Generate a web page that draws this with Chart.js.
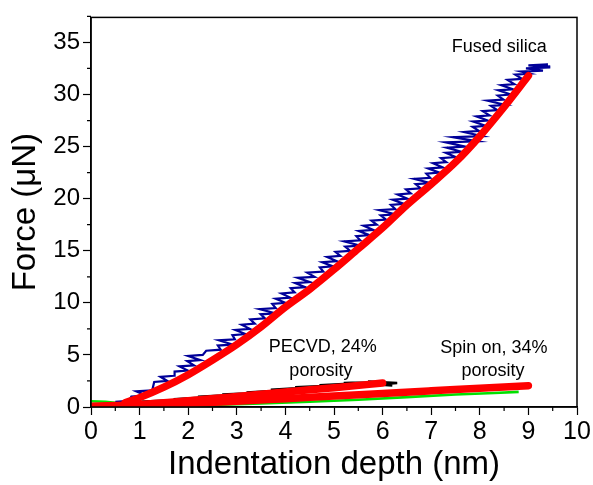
<!DOCTYPE html>
<html>
<head>
<meta charset="utf-8">
<script src="https://cdn.jsdelivr.net/npm/chart.js@4.4.0/dist/chart.umd.min.js"></script>
<style>
  html, body { margin: 0; padding: 0; background: #fff; }
</style>
</head>
<body>
<canvas id="chart" width="593" height="485"></canvas>
<script>
// tick labels
const xMajor = [0, 1, 2, 3, 4, 5, 6, 7, 8, 9, 10];
const yMajor = [0, 5, 10, 15, 20, 25, 30, 35];

// fused silica: raw (noisy, read as left/right pairs) + fit
const fusedX = [0.5, 0.78, 0.83, 1.13, 0.93, 1.26, 1.30, 1.57, 1.43, 1.71, 1.72, 1.99, 1.82, 2.12, 1.98, 2.25, 2.0, 2.3,
  2.37, 2.67, 2.61, 2.91, 2.63, 2.96, 2.91, 3.18, 2.97, 3.27, 3.10, 3.37, 3.28, 3.58, 3.49, 3.79, 3.47, 3.80,
  3.73, 4.0, 3.8, 4.1, 3.92, 4.19, 4.11, 4.41, 4.2, 4.5, 4.25, 4.6, 4.45, 4.78, 4.71, 4.98, 4.76, 5.06,
  4.86, 5.13, 5.03, 5.33, 5.23, 5.53, 5.21, 5.54, 5.46, 5.73, 5.51, 5.81, 5.61, 5.88, 5.77, 6.07, 5.96, 6.26,
  5.93, 6.26, 6.17, 6.44, 6.21, 6.51, 6.31, 6.58, 6.48, 6.78, 6.68, 6.98, 6.65, 6.98, 6.9, 7.17, 6.94, 7.24,
  7.04, 7.31, 7.2, 7.5, 7.3, 7.62, 7.32, 7.7, 7.3, 7.95, 7.45, 8.05, 7.68, 7.98, 7.85, 8.12, 7.86, 8.16,
  7.93, 8.2, 8.06, 8.36, 8.23, 8.53, 8.16, 8.49, 8.37, 8.64, 8.38, 8.68, 8.44, 8.71, 8.57, 8.87, 8.73, 9.03,
  8.85, 9.3, 8.95, 9.45, 9.0, 9.4, 9.1, 9.45];
const fusedY = [0.5, 0.6, 1.0, 1.1, 1.5, 1.6, 2.4, 2.5, 2.9, 3.0, 3.4, 3.5, 3.9, 4.0, 4.4, 4.5, 4.9, 5.0,
  5.4, 5.5, 5.9, 6.0, 6.4, 6.5, 6.9, 7.0, 7.4, 7.5, 7.9, 8.0, 8.4, 8.5, 8.9, 9.0, 9.4, 9.5,
  9.9, 10.0, 10.4, 10.5, 10.9, 11.0, 11.4, 11.5, 11.9, 12.0, 12.4, 12.5, 12.9, 13.0, 13.4, 13.5, 13.9, 14.0,
  14.4, 14.5, 14.9, 15.0, 15.4, 15.5, 15.9, 16.0, 16.4, 16.5, 16.9, 17.0, 17.4, 17.5, 17.9, 18.0, 18.4, 18.5,
  18.9, 19.0, 19.4, 19.5, 19.9, 20.0, 20.4, 20.5, 20.9, 21.0, 21.4, 21.5, 21.9, 22.0, 22.4, 22.5, 22.9, 23.0,
  23.4, 23.5, 23.9, 24.0, 24.4, 24.5, 24.9, 25.0, 25.4, 25.5, 25.9, 26.0, 26.4, 26.5, 26.9, 27.0, 27.4, 27.5,
  27.9, 28.0, 28.4, 28.5, 28.9, 29.0, 29.4, 29.5, 29.9, 30.0, 30.4, 30.5, 30.9, 31.0, 31.4, 31.5, 31.9, 32.0,
  32.2, 32.3, 32.5, 32.6, 32.8, 32.9, 32.6, 32.7];
const fusedFitX = [0.7, 1, 1.5, 2, 2.5, 3, 3.5, 4, 4.5, 5, 5.5, 6, 6.5, 7, 7.5, 8, 8.5, 9];
const fusedFitY = [0.4, 0.9, 1.9, 3.1, 4.5, 6.0, 7.7, 9.6, 11.3, 13.2, 15.2, 17.2, 19.4, 21.4, 23.5, 26.0, 28.8, 31.8];

// PECVD, 24% porosity
const pecvdX = [0.8, 1.3, 1.2, 1.9, 1.7, 2.4, 2.2, 2.9, 2.7, 3.4, 3.2, 3.9, 3.7, 4.4, 4.2, 4.9, 4.7, 5.4,
  5.2, 5.9, 5.7, 6.3, 5.9, 6.2];
const pecvdY = [0.35, 0.45, 0.55, 0.7, 0.75, 0.95, 1.0, 1.15, 1.2, 1.35, 1.4, 1.6, 1.65, 1.85, 1.9, 2.05, 2.1, 2.25,
  2.3, 2.4, 2.45, 2.3, 2.15, 2.05];
const pecvdFitX = [0, 1, 2, 3, 4, 5, 6];
const pecvdFitY = [0.05, 0.25, 0.6, 1.0, 1.45, 1.85, 2.3];

// spin on, 34% porosity
const spinX = [0, 0.3, 0.6, 1.5, 2.5, 3.5, 4.5, 5.5, 6.5, 7.5, 8.3, 8.8];
const spinY = [0.55, 0.5, 0.35, 0.15, 0.2, 0.35, 0.5, 0.7, 0.95, 1.2, 1.35, 1.45];
const spinFitX = [0, 1, 2, 3, 4, 5, 6, 7, 8, 9];
const spinFitY = [0.05, 0.15, 0.35, 0.55, 0.8, 1.05, 1.3, 1.55, 1.8, 2.05];

// text notes (data coords)
const noteText = ["Fused silica", "PECVD, 24%", "porosity", "Spin on, 34%", "porosity"];
const noteX = [8.4, 4.77, 4.73, 8.29, 8.27];
const noteY = [34.6, 5.8, 3.5, 5.7, 3.5];

const FONT = "Arial, 'Liberation Sans', sans-serif";

const pts = (xs, ys) => xs.map((x, i) => ({ x: x, y: ys[i] }));

function raw(data, color, width) {
  return { data, borderColor: color, backgroundColor: color, borderWidth: width, pointRadius: 0, showLine: true,
    borderJoinStyle: 'miter', order: 2 };
}
function fit(data) {
  return { data, borderColor: '#ff0000', backgroundColor: '#ff0000', borderWidth: 7.5, pointRadius: 0, showLine: true,
    borderCapStyle: 'round', cubicInterpolationMode: 'monotone', order: 1 };
}

const extras = {
  id: 'extras',
  afterDraw(chart) {
    const { ctx, chartArea: a, scales: { x, y } } = chart;
    ctx.save();
    ctx.strokeStyle = '#000';
    ctx.lineWidth = 1.5;
    ctx.strokeRect(a.left, a.top, a.right - a.left, a.bottom - a.top);

    // minor ticks halfway between majors
    ctx.lineWidth = 1.2;
    ctx.beginPath();
    for (let i = 0; i < xMajor.length - 1; i++) {
      const px = x.getPixelForValue((xMajor[i] + xMajor[i + 1]) / 2);
      ctx.moveTo(px, a.bottom);
      ctx.lineTo(px, a.bottom + 4);
    }
    for (let i = 0; i < yMajor.length; i++) {
      const py = y.getPixelForValue(yMajor[i] + 2.5);
      ctx.moveTo(a.left, py);
      ctx.lineTo(a.left - 4, py);
    }
    ctx.stroke();

    ctx.fillStyle = '#000';
    ctx.font = '18px ' + FONT;
    ctx.textAlign = 'center';
    ctx.textBaseline = 'middle';
    noteText.forEach((t, i) => ctx.fillText(t, x.getPixelForValue(noteX[i]), y.getPixelForValue(noteY[i])));
    ctx.restore();
  }
};

new Chart(document.getElementById('chart'), {
  type: 'scatter',
  data: {
    datasets: [
      raw(pts(fusedX, fusedY), '#000099', 2.2),
      raw(pts(pecvdX, pecvdY), '#000000', 2.4),
      raw(pts(spinX, spinY), '#00e000', 2.6),
      fit(pts(fusedFitX, fusedFitY)),
      fit(pts(pecvdFitX, pecvdFitY)),
      fit(pts(spinFitX, spinFitY))
    ]
  },
  options: {
    responsive: false,
    animation: false,
    layout: { padding: { top: 15, right: 16, left: 0, bottom: 0 } },
    plugins: { legend: { display: false }, tooltip: { enabled: false } },
    scales: {
      x: {
        type: 'linear', min: 0, max: 10,
        afterBuildTicks: s => { s.ticks = xMajor.map(v => ({ value: v })); },
        afterFit: s => { s.height = 78; },
        ticks: { color: '#000', font: { family: FONT, size: 25 }, padding: 2, maxRotation: 0 },
        grid: { drawOnChartArea: false, tickLength: 8, tickColor: '#000', tickWidth: 1.2 },
        border: { color: '#000', width: 1.5 },
        title: { display: true, text: 'Indentation depth (nm)', color: '#000', font: { family: FONT, size: 33 }, padding: 0 }
      },
      y: {
        type: 'linear', min: 0, max: 37.4,
        afterBuildTicks: s => { s.ticks = yMajor.map(v => ({ value: v })); },
        afterFit: s => { s.width = 91; },
        ticks: { color: '#000', font: { family: FONT, size: 24 }, padding: 3 },
        grid: { drawOnChartArea: false, tickLength: 8, tickColor: '#000', tickWidth: 1.2 },
        border: { color: '#000', width: 1.5 },
        title: { display: true, text: 'Force (\u03bcN)', color: '#000', font: { family: FONT, size: 33 }, padding: { top: 6, bottom: 0 } }
      }
    }
  },
  plugins: [extras]
});
</script>
</body>
</html>
